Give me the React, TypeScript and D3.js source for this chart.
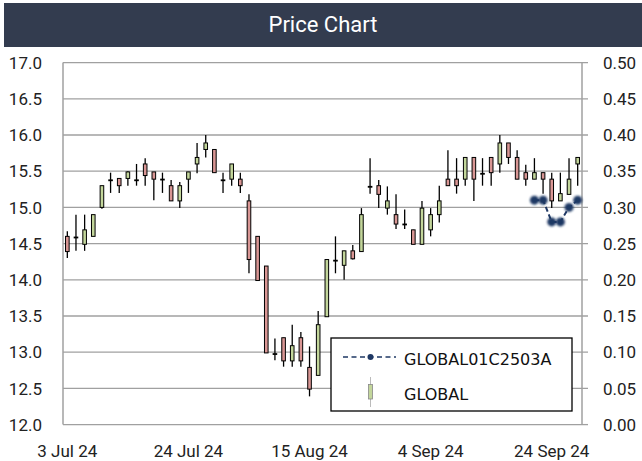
import React from "react";
import * as d3 from "d3";

const openP = [14.60,14.59,14.49,14.60,15.00,15.38,15.40,15.40,15.38,15.60,15.49,15.39,15.30,15.09,15.39,15.60,15.80,15.80,15.38,15.39,15.39,15.09,14.60,14.19,12.98,13.20,12.88,13.20,12.79,12.68,13.49,14.27,14.20,14.40,14.39,15.29,15.30,14.99,14.90,14.77,14.69,14.49,14.69,14.90,15.39,15.39,15.39,15.69,15.47,15.69,15.60,15.89,15.69,15.48,15.39,15.48,15.39,15.09,15.18,15.60];
const highP = [14.67,14.90,14.90,14.90,15.30,15.48,15.40,15.50,15.60,15.68,15.49,15.48,15.38,15.35,15.49,15.89,16.00,15.80,15.48,15.60,15.48,15.18,14.60,14.19,13.19,13.20,13.38,13.28,13.08,13.57,14.28,14.60,14.40,14.48,14.99,15.68,15.38,15.29,15.18,14.97,14.69,15.09,14.99,15.30,15.79,15.68,15.69,15.69,15.68,15.69,16.00,15.89,15.79,15.59,15.68,15.48,15.48,15.48,15.68,15.69];
const lowP = [14.30,14.40,14.40,14.60,14.98,15.20,15.20,15.30,15.30,15.30,15.10,15.20,15.09,14.99,15.20,15.47,15.69,15.48,15.20,15.30,15.20,14.09,13.99,12.99,12.89,12.80,12.80,12.80,12.39,12.68,13.49,14.09,14.00,14.28,14.39,15.19,14.99,14.90,14.70,14.70,14.49,14.49,14.60,14.79,15.30,15.19,15.30,15.09,15.30,15.30,15.48,15.60,15.39,15.30,15.39,15.19,14.99,15.09,15.18,15.30];
const closeP = [14.39,14.59,14.69,14.90,15.30,15.38,15.30,15.49,15.38,15.44,15.39,15.39,15.09,15.30,15.49,15.69,15.89,15.48,15.38,15.60,15.30,14.28,13.99,12.99,12.98,12.88,13.09,12.88,12.49,13.38,14.28,14.27,14.40,14.29,14.90,15.29,15.18,15.09,14.77,14.77,14.49,14.99,14.90,15.09,15.30,15.30,15.69,15.39,15.47,15.48,15.89,15.69,15.39,15.39,15.48,15.39,15.09,15.19,15.39,15.69];

const warrantStart = 54;
const warrantVals = [0.31, 0.31, 0.28, 0.28, 0.30, 0.31];

const leftTicks = [12.0, 12.5, 13.0, 13.5, 14.0, 14.5, 15.0, 15.5, 16.0, 16.5, 17.0];
const rightTicks = [0, 0.05, 0.1, 0.15, 0.2, 0.25, 0.3, 0.35, 0.4, 0.45, 0.5];
const xTickIdx = [0, 14, 28, 42, 56];
const xTickLabels = ["3 Jul 24", "24 Jul 24", "15 Aug 24", "4 Sep 24", "24 Sep 24"];

const seriesNames = ["GLOBAL01C2503A", "GLOBAL"];

const UP = "#c3d69b";
const DOWN = "#d99694";
const NAVY = "#1f3864";
const GRID = "#a0a0a0";
const FONT = "Roboto, 'DejaVu Sans', sans-serif";

export default function App() {
  const left = 63, right = 582, top = 62.6, bottom = 424.6;
  const idx = d3.range(openP.length);
  const x = d3.scaleBand<number>().domain(idx).range([left, right]);
  const cx = (i: number) => (x(i) as number) + x.bandwidth() / 2;
  const y = d3.scaleLinear().domain([12, 17]).range([bottom, top]);
  const y2 = d3.scaleLinear().domain([0, 0.5]).range([bottom, top]);
  const bw = 3.6;

  const wPts = warrantVals.map((v, k) => [cx(warrantStart + k), y2(v)] as [number, number]);
  const line = d3.line<[number, number]>().x(d => d[0]).y(d => d[1]);

  return (
    <svg width={642} height={461} style={{ position: "absolute", left: 0, top: 0, background: "#fff" }}
      fontFamily={FONT}>
      <defs>
        <filter id="blur" x="-50%" y="-50%" width="200%" height="200%">
          <feGaussianBlur stdDeviation="0.8" />
        </filter>
      </defs>
      <rect x={0} y={0} width={642} height={461} fill="#fff" />
      <rect x={4} y={3} width={638} height={44} fill="#333c4f" />
      <text x={323} y={32} textAnchor="middle" fill="#fff" fontSize={22} fontWeight={400}>Price Chart</text>

      {/* gridlines */}
      {leftTicks.filter(t => t > 12).map(t => (
        <line key={"g" + t} x1={left} x2={right + 6} y1={y(t)} y2={y(t)} stroke={GRID} strokeWidth={1.3} />
      ))}
      <line x1={left} x2={right} y1={bottom} y2={bottom} stroke={GRID} strokeWidth={1.3} />
      <line x1={right} x2={right + 6} y1={bottom} y2={bottom} stroke={GRID} strokeWidth={1.3} />
      <line x1={left} x2={left} y1={top} y2={bottom} stroke={GRID} strokeWidth={1.5} />
      <line x1={right} x2={right} y1={top} y2={bottom} stroke={GRID} strokeWidth={1.5} />

      {/* axis labels */}
      {leftTicks.map(t => (
        <text key={"l" + t} x={42} y={y(t) + 6.2} textAnchor="end" fontSize={17} fill="#222">{t.toFixed(1)}</text>
      ))}
      {rightTicks.map(t => (
        <text key={"r" + t} x={603} y={y2(t) + 6.2} textAnchor="start" fontSize={17} fill="#222">{t.toFixed(2)}</text>
      ))}
      {xTickIdx.map((i, k) => (
        <text key={"x" + i} x={cx(i)} y={457} textAnchor="middle" fontSize={17} fill="#222">{xTickLabels[k]}</text>
      ))}

      {/* candles */}
      {idx.map(i => {
        const o = openP[i], c = closeP[i], h = highP[i], l = lowP[i];
        const up = c >= o;
        const yt = y(Math.max(o, c)), yb = y(Math.min(o, c));
        return (
          <g key={"c" + i}>
            <line x1={cx(i)} x2={cx(i)} y1={y(h)} y2={y(l)} stroke="#000" strokeWidth={1.3} />
            <rect x={cx(i) - bw / 2} y={yt} width={bw} height={Math.max(yb - yt, 0.8)}
              fill={up ? UP : DOWN} stroke="#000" strokeWidth={1} />
          </g>
        );
      })}

      {/* warrant series */}
      <path d={line(wPts) || ""} fill="none" stroke={NAVY} strokeWidth={2} strokeDasharray="5,3" />
      {wPts.map((p, k) => (
        <circle key={"w" + k} cx={p[0]} cy={p[1]} r={4.5} fill={NAVY} filter="url(#blur)" />
      ))}

      {/* legend */}
      <rect x={331} y={338} width={241} height={73} fill="#fff" stroke="#000" strokeWidth={1.3} />
      <line x1={343} x2={396} y1={357} y2={357} stroke={NAVY} strokeWidth={1.6} strokeDasharray="5,3.5" />
      <circle cx={370.5} cy={357} r={3} fill={NAVY} />
      <text x={404} y={364.5} fontSize={16} fontFamily="'DejaVu Sans', sans-serif" fill="#111">{seriesNames[0]}</text>
      <line x1={370.5} x2={370.5} y1={377} y2={407} stroke="#bbb" strokeWidth={1} />
      <rect x={368.5} y={384.5} width={4} height={14.5} fill={UP} stroke="#888" strokeWidth={0.8} />
      <text x={404} y={400} fontSize={16} fontFamily="'DejaVu Sans', sans-serif" fill="#111">{seriesNames[1]}</text>
    </svg>
  );
}
